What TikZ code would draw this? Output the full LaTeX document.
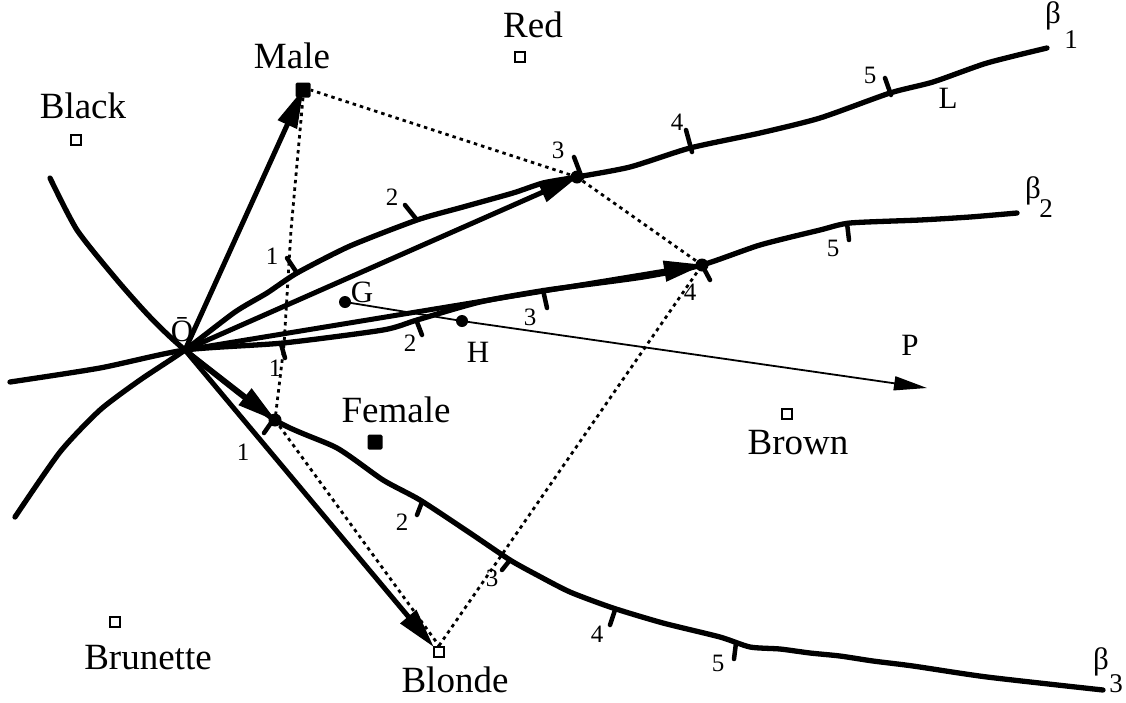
\documentclass[tikz,border=0pt]{standalone}
\usepackage{fontspec}
\setmainfont{Liberation Serif}
\usetikzlibrary{arrows.meta}
\begin{document}
\begin{tikzpicture}[x=1pt,y=-1pt,
  curve/.style={line width=5.3pt, line cap=round, line join=round},
  vec/.style={line width=5pt, shorten >=-2pt, -{Triangle[length=40pt,width=20pt]}},
  tick/.style={line width=4.5pt, line cap=round},
  dots/.style={line width=2.8pt, dash pattern=on 3.5pt off 4pt},
  opensq/.style={draw, line width=2.2pt, minimum size=10.5pt, inner sep=0pt},
  fullsq/.style={fill, rounded corners=1.5pt, minimum size=15pt, inner sep=0pt},
  pt/.style={circle, fill, minimum size=13pt, inner sep=0pt},
  big/.style={font=\fontsize{37}{40}\selectfont, inner sep=0pt},
  mid/.style={font=\fontsize{31}{34}\selectfont, inner sep=0pt},
  num/.style={font=\fontsize{25}{28}\selectfont, inner sep=0pt},
  sub/.style={font=\fontsize{27}{30}\selectfont, inner sep=0pt}]
\useasboundingbox (0,0) rectangle (1126,702);

% ---- named points
\coordinate (O) at (185,350);
\node[pt] (P3) at (577,177) {};
\node[pt] (P4) at (702,265) {};
\node[pt] (P1) at (275,420) {};
\node[fullsq] (male) at (303,90) {};
\node[fullsq] (female) at (375,442) {};
\node[opensq] (red) at (520,57) {};
\node[opensq] (black) at (76,140) {};
\node[opensq] (brown) at (787,414) {};
\node[opensq] (brunette) at (115,622) {};
\node[opensq] (blonde) at (439,652) {};
\node[pt, minimum size=12pt] (G) at (345,302) {};
\node[pt, minimum size=12pt] (H) at (462,321) {};
\coordinate (P) at (927,388);

% ---- labels
\node[big] at (533,25) {Red};
\node[big] at (292,56) {Male};
\node[big] at (83,106) {Black};
\node[big] at (396,410) {Female};
\node[big] at (798,443) {Brown};
\node[big] at (148,658) {Brunette};
\node[big] at (455,680) {Blonde};
\node[mid] at (182,330) {\=O};
\node[mid] at (362,292) {G};
\node[mid] at (478,352) {H};
\node[mid] at (948,98) {L};
\node[mid] at (910,345) {P};
\node[mid] at (1053,16) {β};
\node[sub] at (1071,40) {1};
\node[mid] at (1033,191) {β};
\node[sub] at (1046,209) {2};
\node[mid] at (1101,662) {β};
\node[sub] at (1116,684) {3};

% ---- dotted polygon
\draw[dots] (male.south) -- (291,230) -- (284,345) -- (P1.center);
\draw[dots] (P1.center) -- (blonde.north);
\draw[dots] (blonde.north) -- (P4.center);
\draw[dots] (P4.center) -- (P3.center);
\draw[dots] (P3.center) -- (male.east);

% ---- beta curves
\draw[curve] plot[smooth, tension=0.4] coordinates {(15,517) (60,452) (100,410) (140,380) (O) (235,312) (267,293) (297,273) (350,246) (417,220) (463,207) (513,193) (543,183) (P3.center) (630,167) (690,148) (760,133) (820,118) (890,93) (933,82) (987,63) (1047,48)};
\draw[curve] plot[smooth, tension=0.4] coordinates {(10,382) (100,368) (O) (283,343) (383,330) (417,320) (480,302) (547,290) (643,277) (P4.center) (760,245) (820,230) (850,223) (920,220) (970,217) (1017,213)};
\draw[curve] plot[smooth, tension=0.4] coordinates {(50,178) (77,230) (117,280) (150,317) (O) (P1.center) (337,448) (383,480) (420,500) (470,533) (510,560) (537,575) (570,592) (613,608) (663,623) (720,637) (750,647) (780,649) (810,653) (840,656) (873,661) (913,666) (987,677) (1103,690)};

% ---- ticks on beta1
\draw[tick] (287,258) -- (297,273);
\draw[tick] (405,205) -- (417,220);
\draw[tick] (574,157) -- (582,178);
\draw[tick] (686,130) -- (692,152);
\draw[tick] (885,78) -- (891,95);
\node[num] at (272,256) {1};
\node[num] at (392,197) {2};
\node[num] at (558,150) {3};
\node[num] at (677,122) {4};
\node[num] at (870,75) {5};
% ---- ticks on beta2
\draw[tick] (281,344) -- (285,358);
\draw[tick] (417,322) -- (422,335);
\draw[tick] (543,290) -- (547,308);
\draw[tick] (702,265) -- (710,280);
\draw[tick] (847,223) -- (849,240);
\node[num] at (275,368) {1};
\node[num] at (410,343) {2};
\node[num] at (530,317) {3};
\node[num] at (690,292) {4};
\node[num] at (833,248) {5};
% ---- ticks on beta3
\draw[tick] (264,433) -- (273,420);
\draw[tick] (417,515) -- (422,502);
\draw[tick] (502,570) -- (510,560);
\draw[tick] (610,625) -- (615,610);
\draw[tick] (734,659) -- (736,643);
\node[num] at (243,452) {1};
\node[num] at (402,522) {2};
\node[num] at (492,578) {3};
\node[num] at (597,634) {4};
\node[num] at (718,663) {5};

% ---- vectors from O
\draw[vec] (O) -- (male.center);
\draw[vec] (O) -- (P3.center);
\draw[vec] (O) -- (P4.center);
\draw[vec] (O) -- (P1.center);
\draw[vec] (O) -- (blonde.north west);

% ---- G through H to P
\draw[line width=1.8pt, -{Triangle[length=33pt,width=14pt]}] (G.center) -- (H.center) -- (P);
\end{tikzpicture}
\end{document}
